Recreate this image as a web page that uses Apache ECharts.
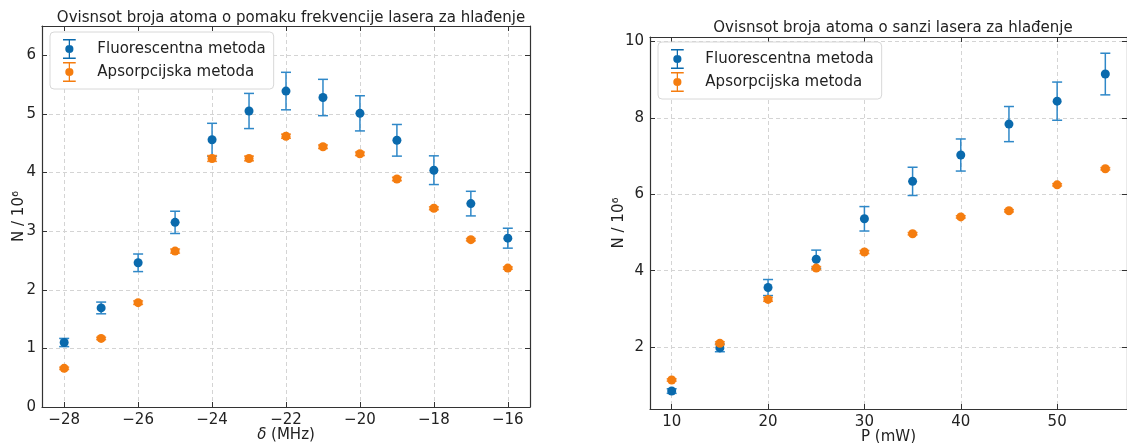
<!DOCTYPE html>
<html>
<head>
<meta charset="utf-8">
<script src="https://cdn.jsdelivr.net/npm/echarts@6/dist/echarts.min.js"></script>
<style>
  html, body { margin: 0; padding: 0; background: #fff; }
  #chart { width: 1127px; height: 443px; }
</style>
</head>
<body>
<div id="chart"></div>
<script>
"use strict";
// lijevi graf: ovisnost o pomaku frekvencije
var detuning = [-28, -27, -26, -25, -24, -23, -22, -21, -20, -19, -18, -17, -16];
var fluoDet = [1.10, 1.69, 2.46, 3.15, 4.56, 5.05, 5.39, 5.28, 5.01, 4.55, 4.04, 3.47, 2.88];
var fluoDetErr = [0.07, 0.10, 0.15, 0.19, 0.28, 0.30, 0.32, 0.31, 0.30, 0.27, 0.245, 0.21, 0.17];
var absDet = [0.66, 1.17, 1.78, 2.66, 4.24, 4.24, 4.62, 4.44, 4.32, 3.89, 3.39, 2.855, 2.37];
var absDetErr = [0.02, 0.02, 0.03, 0.035, 0.05, 0.04, 0.035, 0.03, 0.03, 0.03, 0.025, 0.02, 0.02];
var detTicks = [-28, -26, -24, -22, -20, -18, -16];
var nTicksLeft = [0, 1, 2, 3, 4, 5, 6];

// desni graf: ovisnost o snazi
var power = [10, 15, 20, 25, 30, 35, 40, 45, 50, 55];
var fluoPow = [0.85, 1.98, 3.56, 4.30, 5.36, 6.34, 7.03, 7.84, 8.44, 9.15];
var fluoPowErr = [0.06, 0.10, 0.21, 0.24, 0.32, 0.37, 0.42, 0.46, 0.50, 0.545];
var absPow = [1.14, 2.10, 3.25, 4.07, 4.49, 4.97, 5.41, 5.57, 6.25, 6.67];
var absPowErr = [0.03, 0.04, 0.05, 0.04, 0.04, 0.03, 0.03, 0.03, 0.03, 0.03];
var powTicks = [10, 20, 30, 40, 50];
var nTicksRight = [2, 4, 6, 8, 10];

var FONT = 'DejaVu Sans';
var BLUE = '#0a6aad';
var BLUE_BAR = '#2f88c8';
var ORANGE = '#f57d0f';
var ORANGE_BAR = '#f5913a';
var AXIS = '#333';

// ikona legende: tocka s error barom
var legendIcon = 'path://M0 0L14 0L14 1.6L7.7 1.6L7.7 7L6.3 7L6.3 1.6L0 1.6Z' +
    'M6.3 15L7.7 15L7.7 20.4L14 20.4L14 22L0 22L0 20.4L6.3 20.4Z' +
    'M11.5 11A4.5 4.5 0 1 1 2.5 11A4.5 4.5 0 1 1 11.5 11Z';

function zip(xs, ys, es) {
    return xs.map(function (x, i) { return [x, ys[i], es[i]]; });
}

function minus(v) {
    return String(v).replace('-', '\u2212');
}

function errorSeries(name, data, xi, yi, color) {
    return {
        name: name,
        type: 'custom',
        xAxisIndex: xi,
        yAxisIndex: yi,
        data: data,
        z: 2,
        renderItem: function (params, api) {
            var x = api.value(0), y = api.value(1), e = api.value(2);
            var top = api.coord([x, y + e]);
            var bot = api.coord([x, y - e]);
            var hw = 5;
            var st = { stroke: color, lineWidth: 1.5 };
            return {
                type: 'group',
                children: [
                    { type: 'line', shape: { x1: top[0], y1: top[1], x2: bot[0], y2: bot[1] }, style: st },
                    { type: 'line', shape: { x1: top[0] - hw, y1: top[1], x2: top[0] + hw, y2: top[1] }, style: st },
                    { type: 'line', shape: { x1: bot[0] - hw, y1: bot[1], x2: bot[0] + hw, y2: bot[1] }, style: st }
                ]
            };
        }
    };
}

function pointSeries(name, data, xi, yi, color) {
    return {
        name: name,
        type: 'scatter',
        xAxisIndex: xi,
        yAxisIndex: yi,
        data: data,
        symbolSize: 9,
        z: 3,
        itemStyle: { color: color, opacity: 1 }
    };
}

function mainX(grid, min, max, ticks, name) {
    return {
        gridIndex: grid, type: 'value', min: min, max: max,
        position: 'bottom',
        name: name, nameLocation: 'middle', nameGap: 21, nameMoveOverlap: false,
        nameTextStyle: { fontFamily: FONT, fontSize: 15, color: '#222',
            rich: { i: { fontFamily: FONT, fontSize: 15, fontStyle: 'italic', color: '#222' } } },
        axisLine: { show: true, lineStyle: { color: AXIS, width: 1.2 } },
        axisTick: { show: true, inside: true, length: 5, customValues: ticks, lineStyle: { color: AXIS } },
        axisLabel: { customValues: ticks, fontFamily: FONT, fontSize: 15, color: '#222', margin: 6, formatter: minus },
        splitLine: { show: true, lineStyle: { color: '#d4d4d4', type: [4, 3] } }
    };
}

function mainY(grid, min, max, ticks, name, gap) {
    return {
        gridIndex: grid, type: 'value', min: min, max: max,
        position: 'left',
        name: name, nameLocation: 'middle', nameGap: gap, nameMoveOverlap: false,
        nameTextStyle: { fontFamily: FONT, fontSize: 15, color: '#222' },
        axisLine: { show: true, lineStyle: { color: AXIS, width: 1.2 } },
        axisTick: { show: true, inside: true, length: 5, customValues: ticks, lineStyle: { color: AXIS } },
        axisLabel: { customValues: ticks, fontFamily: FONT, fontSize: 15, color: '#222', margin: 6 },
        splitLine: { show: true, lineStyle: { color: '#d4d4d4', type: [4, 3] } }
    };
}

function frameAxis(grid, min, max, ticks, pos) {
    return {
        gridIndex: grid, type: 'value', min: min, max: max, position: pos,
        axisLine: { show: true, onZero: false, lineStyle: { color: AXIS, width: 1.2 } },
        axisTick: { show: true, inside: true, length: 5, customValues: ticks, lineStyle: { color: AXIS } },
        axisLabel: { show: false },
        splitLine: { show: false }
    };
}

var FL = 'Fluorescentna metoda';
var AP = 'Apsorpcijska metoda';

var legendBase = {
    orient: 'vertical',
    icon: legendIcon,
    itemWidth: 14,
    itemHeight: 20,
    itemGap: 3,
    padding: [7, 8, 7, 13],
    backgroundColor: '#fff',
    borderColor: '#d8d8d8',
    borderWidth: 1,
    borderRadius: 4,
    textStyle: { fontFamily: FONT, fontSize: 15, color: '#222', padding: [0, 0, 0, 16] },
    selectedMode: false,
    data: [
        { name: FL, itemStyle: { color: BLUE } },
        { name: AP, itemStyle: { color: ORANGE } }
    ]
};

var chart = echarts.init(document.getElementById('chart'), null, { renderer: 'canvas' });
chart.setOption({
    animation: false,
    backgroundColor: '#fff',
    textStyle: { fontFamily: FONT },
    title: [
        { text: 'Ovisnsot broja atoma o pomaku frekvencije lasera za hlađenje',
          left: 286, top: 6, textAlign: 'center',
          textStyle: { fontFamily: FONT, fontSize: 15, fontWeight: 'normal', color: '#222' } },
        { text: 'Ovisnsot broja atoma o sanzi lasera za hlađenje',
          left: 888, top: 16, textAlign: 'center',
          textStyle: { fontFamily: FONT, fontSize: 15, fontWeight: 'normal', color: '#222' } }
    ],
    legend: [
        Object.assign({}, legendBase, { left: 50, top: 32 }),
        Object.assign({}, legendBase, { left: 658, top: 42 })
    ],
    grid: [
        { left: 42, right: 597, top: 26, bottom: 36, outerBoundsMode: 'none', containLabel: false },
        { left: 650, right: 0, top: 37, bottom: 34, outerBoundsMode: 'none', containLabel: false }
    ],
    xAxis: [
        mainX(0, -28.6, -15.4, detTicks, '{i|δ} (MHz)'),
        frameAxis(0, -28.6, -15.4, detTicks, 'top'),
        mainX(1, 7.75, 57.25, powTicks, 'P (mW)'),
        frameAxis(1, 7.75, 57.25, powTicks, 'top')
    ],
    yAxis: [
        mainY(0, 0, 6.5, nTicksLeft, 'N / 10⁶', 15),
        frameAxis(0, 0, 6.5, nTicksLeft, 'right'),
        mainY(1, 0.38, 10.12, nTicksRight, 'N / 10⁶', 23),
        frameAxis(1, 0.38, 10.12, nTicksRight, 'right')
    ],
    series: [
        errorSeries(FL, zip(detuning, fluoDet, fluoDetErr), 0, 0, BLUE_BAR),
        pointSeries(FL, zip(detuning, fluoDet, fluoDetErr), 0, 0, BLUE),
        errorSeries(AP, zip(detuning, absDet, absDetErr), 0, 0, ORANGE_BAR),
        pointSeries(AP, zip(detuning, absDet, absDetErr), 0, 0, ORANGE),
        errorSeries(FL, zip(power, fluoPow, fluoPowErr), 2, 2, BLUE_BAR),
        pointSeries(FL, zip(power, fluoPow, fluoPowErr), 2, 2, BLUE),
        errorSeries(AP, zip(power, absPow, absPowErr), 2, 2, ORANGE_BAR),
        pointSeries(AP, zip(power, absPow, absPowErr), 2, 2, ORANGE)
    ]
});
</script>
</body>
</html>
